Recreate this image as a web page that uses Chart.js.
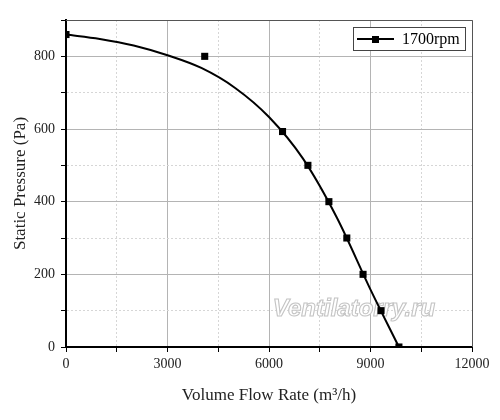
<!DOCTYPE html>
<html>
<head>
<meta charset="utf-8">
<script src="https://cdn.jsdelivr.net/npm/chart.js@4.4.1/dist/chart.umd.min.js"></script>
<style>
  html, body { margin: 0; padding: 0; background: #fff; }
  #wrap { width: 500px; height: 420px; }
</style>
</head>
<body>
<div id="wrap"><canvas id="grafico" width="500" height="420"></canvas></div>
<script>
// Curva ajustada (línea continua)
const curvaCaudal = [0, 1000, 2000, 3000, 4000, 5000, 6000, 7000, 8000, 9000, 9840];
const curvaPresion = [860, 848, 830, 803, 768, 713, 633, 519, 357, 158, 0];

// Puntos medidos (marcadores cuadrados)
const caudal = [0, 4100, 6400, 7150, 7770, 8300, 8780, 9310, 9840];
const presion = [860, 800, 593, 500, 400, 300, 200, 100, 0];

const etiquetaSerie = '1700rpm';
const ticksX = [0, 3000, 6000, 9000, 12000];
const ticksY = [0, 200, 400, 600, 800];

const fuente = '"Liberation Serif", "Times New Roman", serif';

// Cuadro de leyenda y marco superior/derecho
const leyendaCaja = {
    id: 'leyendaCaja',
    afterDraw(chart) {
        const ctx = chart.ctx;
        const area = chart.chartArea;
        ctx.save();
        // marco
        ctx.strokeStyle = '#555';
        ctx.lineWidth = 1;
        ctx.beginPath();
        ctx.moveTo(area.left, area.top + 0.5);
        ctx.lineTo(area.right + 0.5, area.top + 0.5);
        ctx.lineTo(area.right + 0.5, area.bottom);
        ctx.stroke();
        // leyenda
        ctx.fillStyle = '#fff';
        ctx.fillRect(353.5, 27.5, 112, 23);
        ctx.strokeStyle = '#444';
        ctx.strokeRect(353.5, 27.5, 112, 23);
        ctx.strokeStyle = '#000';
        ctx.lineWidth = 2;
        ctx.beginPath();
        ctx.moveTo(357, 39);
        ctx.lineTo(394, 39);
        ctx.stroke();
        ctx.fillStyle = '#000';
        ctx.fillRect(372, 36, 7, 7);
        ctx.font = '16px ' + fuente;
        ctx.textBaseline = 'middle';
        ctx.fillText(etiquetaSerie, 402, 39.5);
        ctx.restore();
    }
};

// Marca de agua
const marcaAgua = {
    id: 'marcaAgua',
    beforeDatasetsDraw(chart) {
        const ctx = chart.ctx;
        ctx.save();
        ctx.font = 'italic bold 24px "Liberation Sans", Arial, sans-serif';
        ctx.textAlign = 'center';
        ctx.textBaseline = 'middle';
        ctx.fillStyle = 'rgba(255,255,255,0.9)';
        ctx.fillText('Ventilatorry.ru', 354, 309);
        ctx.strokeStyle = '#c4c4c4';
        ctx.lineWidth = 1.1;
        ctx.strokeText('Ventilatorry.ru', 354, 309);
        ctx.restore();
    }
};

const colorGrid = (esMayor) => esMayor ? '#b4b4b4' : '#d6d6d6';

const ctxGrafico = document.getElementById('grafico').getContext('2d');

const grafico = new Chart(ctxGrafico, {
    type: 'scatter',
    data: {
        datasets: [
            {
                label: 'curva',
                data: curvaCaudal.map((x, i) => ({ x: x, y: curvaPresion[i] })),
                showLine: true,
                borderColor: '#000',
                borderWidth: 2,
                pointRadius: 0,
                cubicInterpolationMode: 'monotone',
                fill: false
            },
            {
                label: etiquetaSerie,
                data: caudal.map((x, i) => ({ x: x, y: presion[i] })),
                showLine: false,
                pointStyle: 'rect',
                pointRadius: 5,
                backgroundColor: '#000',
                borderColor: '#000',
                borderWidth: 0
            }
        ]
    },
    options: {
        responsive: false,
        animation: false,
        layout: { padding: { left: 0, right: 28, top: 20, bottom: 0 } },
        plugins: {
            legend: { display: false },
            tooltip: { enabled: false }
        },
        scales: {
            x: {
                type: 'linear',
                min: 0,
                max: 12000,
                afterFit(scale) { scale.height = 73; },
                ticks: {
                    stepSize: 1500,
                    autoSkip: false,
                    maxRotation: 0,
                    padding: 4,
                    color: '#222',
                    font: { family: fuente, size: 14 },
                    callback: v => ticksX.includes(v) ? String(v) : ''
                },
                grid: {
                    color: c => colorGrid(c.tick && ticksX.includes(c.tick.value)),
                    tickColor: '#000',
                    tickLength: 5,
                    tickWidth: 1,
                    tickBorderDash: []
                },
                border: {
                    color: '#000',
                    width: 2,
                    dash: c => (c.tick && !ticksX.includes(c.tick.value)) ? [2, 2] : []
                },
                title: {
                    display: true,
                    text: 'Volume Flow Rate (m³/h)',
                    color: '#222',
                    font: { family: fuente, size: 17 },
                    padding: { top: 4, bottom: 14 }
                }
            },
            y: {
                type: 'linear',
                min: 0,
                max: 900,
                afterFit(scale) { scale.width = 66; },
                ticks: {
                    stepSize: 100,
                    autoSkip: false,
                    padding: 6,
                    color: '#222',
                    font: { family: fuente, size: 14 },
                    callback: v => ticksY.includes(v) ? String(v) : ''
                },
                grid: {
                    color: c => colorGrid(c.tick && ticksY.includes(c.tick.value)),
                    tickColor: '#000',
                    tickLength: 5,
                    tickWidth: 1,
                    tickBorderDash: []
                },
                border: {
                    color: '#000',
                    width: 2,
                    dash: c => (c.tick && !ticksY.includes(c.tick.value)) ? [2, 2] : []
                },
                title: {
                    display: true,
                    text: 'Static Pressure (Pa)',
                    color: '#222',
                    font: { family: fuente, size: 17 },
                    padding: { top: 10, bottom: 4 }
                }
            }
        }
    },
    plugins: [marcaAgua, leyendaCaja]
});
</script>
</body>
</html>
